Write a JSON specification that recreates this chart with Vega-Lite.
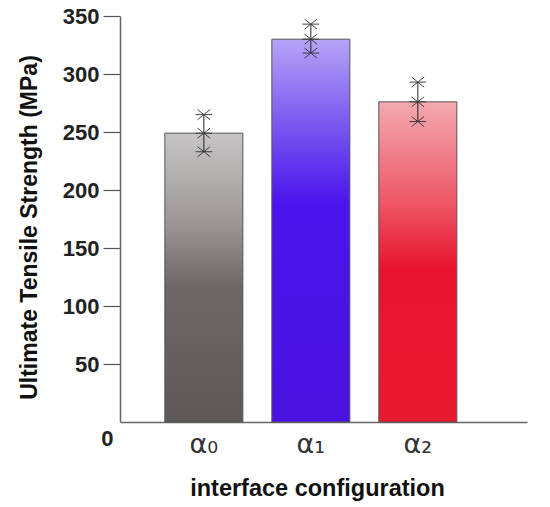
{
  "$schema": "https://vega.github.io/schema/vega-lite/v6.json",
  "autosize": {"type": "none"},
  "padding": {"left": 120, "top": 16, "right": 23, "bottom": 85},
  "width": 407,
  "height": 406,
  "background": "white",
  "config": {"view": {"stroke": null}},
  "data": {"values": [
    {"cfg": "α₀", "mean": 249, "lo": 233, "hi": 265},
    {"cfg": "α₁", "mean": 330, "lo": 318, "hi": 343},
    {"cfg": "α₂", "mean": 276, "lo": 259, "hi": 293}
  ]},
  "encoding": {
    "x": {
      "field": "cfg", "type": "nominal", "sort": null,
      "scale": {"type": "band", "paddingInner": 0.271, "paddingOuter": 0.5375, "align": 0.39},
      "axis": {
        "title": "interface configuration",
        "titleFont": "Liberation Sans", "titleFontSize": 23.5, "titleFontWeight": "bold", "titleColor": "#111",
        "titleX": 197, "titleY": 73, "titleBaseline": "alphabetic", "titleAnchor": null, "titleAlign": "center",
        "labelAngle": 0, "labelFont": "DejaVu Sans", "labelFontSize": 27, "labelColor": "#333",
        "labelPadding": 9, "ticks": false, "domainColor": "#666", "domainWidth": 1.5
      }
    }
  },
  "layer": [
    {
      "transform": [{"filter": "datum.cfg === 'α₀'"}],
      "mark": {"type": "bar", "stroke": "#555", "strokeWidth": 1,
        "fill": {"gradient": "linear", "x1": 0, "y1": 0, "x2": 0, "y2": 1, "stops": [
          {"offset": 0, "color": "#c6c4c4"}, {"offset": 0.3, "color": "#9d9999"},
          {"offset": 0.53, "color": "#6c6868"}, {"offset": 1, "color": "#5d5959"}]}},
      "encoding": {
        "y": {"field": "mean", "type": "quantitative",
          "scale": {"domain": [0, 350], "nice": false},
          "axis": {
            "values": [0, 25, 50, 75, 100, 125, 150, 175, 200, 225, 250, 275, 300, 325, 350],
            "labelExpr": "datum.value % 50 === 0 ? datum.label : ''",
            "labelFont": "Liberation Sans", "labelFontSize": 22, "labelFontWeight": "bold", "labelColor": "#222",
            "tickSize": {"condition": {"test": "datum.value % 50 === 0", "value": 17}, "value": 8},
            "tickOpacity": {"condition": {"test": "datum.value === 0", "value": 0}, "value": 1},
            "labelPadding": {"condition": {"test": "datum.value === 0", "value": -10}, "value": 4},
            "labelOffset": {"condition": {"test": "datum.value === 0", "value": 16}, "value": 0},
            "tickColor": "#555", "tickWidth": 1.2, "domainColor": "#666", "domainWidth": 1.5,
            "grid": false,
            "title": "Ultimate Tensile Strength (MPa)",
            "titleFont": "Liberation Sans", "titleFontSize": 23, "titleFontWeight": "bold", "titleColor": "#111",
            "titleX": -91, "titleY": 211, "titleAngle": -90, "titleBaseline": "middle", "titleAlign": "center", "titleAnchor": null
          }
        }
      }
    },
    {
      "transform": [{"filter": "datum.cfg === 'α₁'"}],
      "mark": {"type": "bar", "stroke": "#555", "strokeWidth": 1,
        "fill": {"gradient": "linear", "x1": 0, "y1": 0, "x2": 0, "y2": 1, "stops": [
          {"offset": 0, "color": "#b4a4f6"}, {"offset": 0.21, "color": "#7d5cf0"},
          {"offset": 0.43, "color": "#4a14ec"}, {"offset": 1, "color": "#4a12e0"}]}},
      "encoding": {"y": {"field": "mean", "type": "quantitative"}}
    },
    {
      "transform": [{"filter": "datum.cfg === 'α₂'"}],
      "mark": {"type": "bar", "stroke": "#555", "strokeWidth": 1,
        "fill": {"gradient": "linear", "x1": 0, "y1": 0, "x2": 0, "y2": 1, "stops": [
          {"offset": 0, "color": "#f4a9b0"}, {"offset": 0.06, "color": "#f29aa3"},
          {"offset": 0.32, "color": "#ee5565"}, {"offset": 0.52, "color": "#e8142e"}, {"offset": 1, "color": "#e81a30"}]}},
      "encoding": {"y": {"field": "mean", "type": "quantitative"}}
    },
    {
      "mark": {"type": "rule", "color": "#222", "strokeWidth": 1},
      "encoding": {"y": {"field": "lo", "type": "quantitative"}, "y2": {"field": "hi"}}
    },
    {
      "transform": [{"fold": ["lo", "mean", "hi"], "as": ["k", "v"]}],
      "mark": {"type": "point", "filled": false, "stroke": "#333", "strokeWidth": 1, "opacity": 0.9, "size": 280,
        "shape": "M-1,0L1,0M-0.75,-0.6L0.75,0.6M-0.75,0.6L0.75,-0.6"},
      "encoding": {"y": {"field": "v", "type": "quantitative"}}
    }
  ]
}
